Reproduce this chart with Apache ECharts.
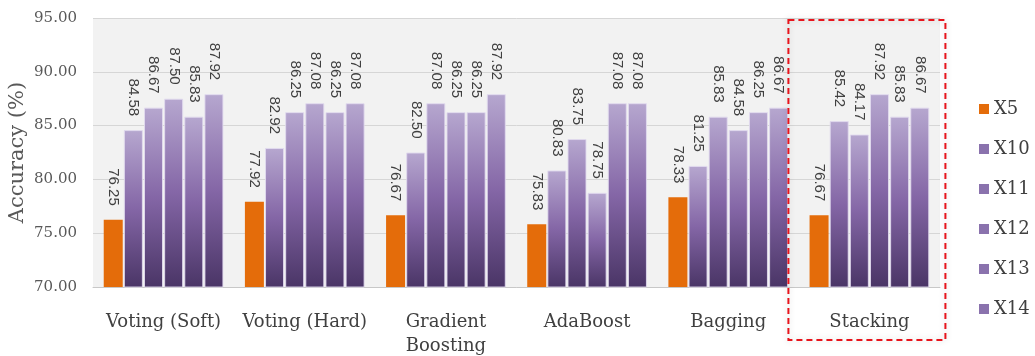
<!DOCTYPE html>
<html>
<head>
<meta charset="utf-8">
<script src="https://cdn.jsdelivr.net/npm/echarts@6/dist/echarts.min.js"></script>
<style>
  html, body { margin: 0; padding: 0; background: #fff; }
  #chart { width: 1035px; height: 356px; }
</style>
</head>
<body>
<div id="chart"></div>
<script>
// data
var categories = ['Voting (Soft)', 'Voting (Hard)', 'Gradient\nBoosting', 'AdaBoost', 'Bagging', 'Stacking'];
var seriesNames = ['X5', 'X10', 'X11', 'X12', 'X13', 'X14'];
var x5  = [76.25, 77.92, 76.67, 75.83, 78.33, 76.67];
var x10 = [84.58, 82.92, 82.50, 80.83, 81.25, 85.42];
var x11 = [86.67, 86.25, 87.08, 83.75, 85.83, 84.17];
var x12 = [87.50, 87.08, 86.25, 78.75, 84.58, 87.92];
var x13 = [85.83, 86.25, 86.25, 87.08, 86.25, 85.83];
var x14 = [87.92, 87.08, 87.92, 87.08, 86.67, 86.67];
var yTicks = [70, 75, 80, 85, 90, 95];

var allValues = [x5, x10, x11, x12, x13, x14];

var orange = '#e46c0a';
var purpleFlat = '#8a72ad';
var purpleGrad = new echarts.graphic.LinearGradient(0, 0, 0, 1, [
  { offset: 0, color: '#b6a7cf' },
  { offset: 0.5, color: '#8466a6' },
  { offset: 1, color: '#4a3566' }
]);

var labelCfg = {
  show: true,
  position: 'top',
  distance: 14,
  rotate: -90,
  align: 'right',
  verticalAlign: 'middle',
  fontFamily: 'Liberation Sans',
  fontSize: 15,
  color: '#404040',
  formatter: function (p) { return p.value.toFixed(2); }
};

var series = [];
for (var i = 0; i < seriesNames.length; i++) {
  series.push({
    name: seriesNames[i],
    type: 'bar',
    data: allValues[i],
    barWidth: 19,
    barGap: '6%',
    itemStyle: i === 0
      ? { color: orange }
      : { color: purpleGrad, borderColor: 'rgba(225,218,238,0.9)', borderWidth: 1 },
    label: labelCfg,
    emphasis: { disabled: true }
  });
}

var legendData = seriesNames.map(function (n, i) {
  return { name: n, itemStyle: { color: i === 0 ? orange : purpleFlat, borderWidth: 0 } };
});

var chart = echarts.init(document.getElementById('chart'));
chart.setOption({
  animation: false,
  backgroundColor: '#ffffff',
  grid: {
    left: 93, right: 95, top: 18, bottom: 69,
    outerBoundsMode: 'none',
    show: true, backgroundColor: '#f2f2f2', borderWidth: 0
  },
  legend: {
    orient: 'vertical',
    left: 974,
    top: 94,
    itemWidth: 10,
    itemHeight: 10,
    itemGap: 20,
    icon: 'rect',
    data: legendData,
    textStyle: { fontFamily: 'DejaVu Serif', fontSize: 18, color: '#404040', lineHeight: 20 }
  },
  xAxis: {
    type: 'category',
    data: categories,
    axisTick: { show: false },
    axisLine: { lineStyle: { color: '#c8c8c8', width: 1 } },
    axisLabel: {
      margin: 23,
      fontFamily: 'DejaVu Serif',
      fontSize: 18,
      lineHeight: 24,
      color: '#404040',
      interval: 0
    }
  },
  yAxis: {
    type: 'value',
    min: yTicks[0],
    max: yTicks[yTicks.length - 1],
    interval: 5,
    name: 'Accuracy (%)',
    nameLocation: 'middle',
    nameGap: 65,
    nameMoveOverlap: false,
    nameTextStyle: { fontFamily: 'DejaVu Serif', fontSize: 21, color: '#595959' },
    axisLine: { show: false },
    axisTick: { show: false },
    splitLine: { lineStyle: { color: '#d6d6d6', width: 1 } },
    axisLabel: {
      margin: 16,
      fontFamily: 'DejaVu Serif',
      fontSize: 15,
      color: '#595959',
      formatter: function (v) { return v.toFixed(2); }
    }
  },
  series: series
});

// red dashed highlight round the Stacking group
var cx = chart.convertToPixel({ xAxisIndex: 0 }, 'Stacking');
chart.setOption({
  graphic: [{
    type: 'rect',
    shape: { x: cx - 81, y: 20, width: 157, height: 320 },
    style: {
      fill: 'none',
      stroke: '#e8141c',
      lineWidth: 2,
      lineDash: [6, 4],
      shadowBlur: 6,
      shadowColor: 'rgba(0,0,0,0.2)'
    },
    z: 100
  }]
});
</script>
</body>
</html>
